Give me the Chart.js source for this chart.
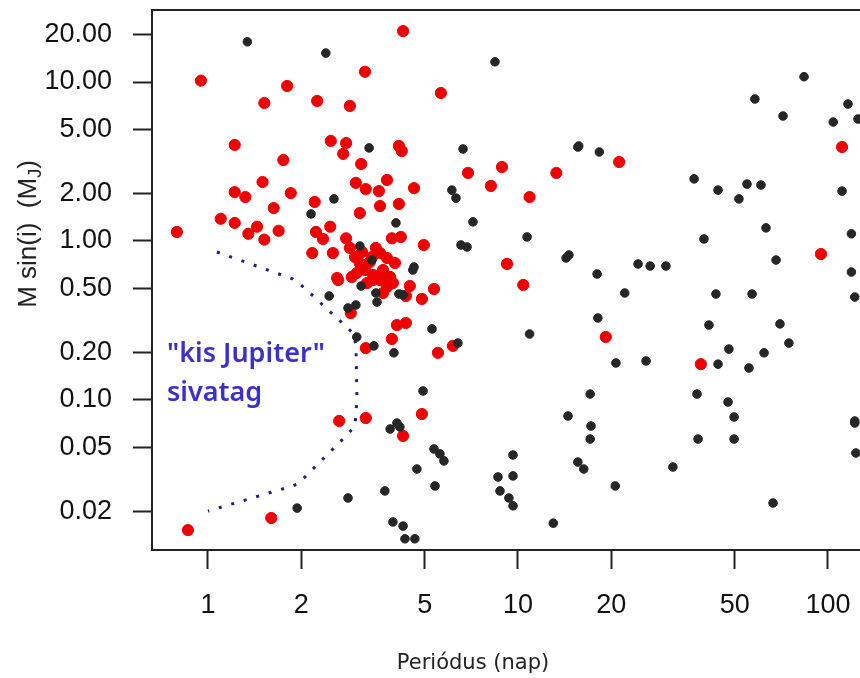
<!DOCTYPE html>
<html><head><meta charset="utf-8">
<script src="https://cdn.jsdelivr.net/npm/chart.js@4"></script>
<style>
html,body{margin:0;padding:0;background:#fff;overflow:hidden;width:860px;height:678px}
#wrap{position:absolute;left:0;top:0;width:900px;height:678px}
</style>
</head><body><div id="wrap"><canvas id="c" width="900" height="678"></canvas></div>
<script>
// Red planets: period (days) and M sin(i) (Jupiter masses)
const redPeriod = [0.794,0.949,1.80,1.52,1.22,1.75,1.50,1.22,1.32,1.85,1.63,1.10,1.22,1.44,1.35,1.69,1.52,0.862,1.60,
  4.26,3.21,2.25,2.87,5.64,2.49,2.79,2.73,4.13,4.22,3.12,6.90,8.88,13.3,3.00,3.23,3.78,3.56,4.62,8.18,10.9,
  2.21,3.09,3.59,4.13,2.48,2.23,2.35,2.79,3.48,3.92,4.19,4.97,2.17,2.53,9.22,21.2,111,94.9,
  2.63,2.91,10.4,5.36,4.48,4.90,2.89,4.07,4.35,3.92,3.23,5.52,6.17,4.90,2.65,3.23,4.26,19.2,38.9,
  2.87,2.98,3.09,3.21,3.02,3.59,3.78,4.01,3.67,3.87,2.61,3.41,3.26,3.41,3.59,3.78,3.95,3.67,3.33,3.14,3.38,4.35];
const redMass = [1.14,10.2,9.44,7.38,4.02,3.23,2.35,2.03,1.89,2.00,1.61,1.38,1.30,1.23,1.11,1.16,1.02,0.0152,0.0181,
  20.9,11.6,7.60,7.07,8.53,4.26,4.13,3.53,3.96,3.68,3.05,2.68,2.92,2.68,2.32,2.12,2.42,2.06,2.15,2.22,1.89,
  1.76,1.50,1.66,1.71,1.23,1.14,1.03,1.04,0.904,1.04,1.06,0.944,0.840,0.840,0.717,3.14,3.90,0.828,
  0.568,0.594,0.529,0.499,0.521,0.432,0.352,0.296,0.305,0.242,0.212,0.198,0.219,0.0816,0.0738,0.0770,0.0594,0.249,0.168,
  0.904,0.793,0.727,0.657,0.629,0.840,0.782,0.727,0.657,0.594,0.585,0.568,0.544,0.611,0.568,0.514,0.544,0.471,0.738,0.853,0.793,0.451];

// Black planets
const blackPeriod = [1.34,1.94,2.40,8.43,3.31,6.65,15.6,6.12,6.31,2.55,2.15,7.16,4.04,3.09,6.55,6.85,10.7,14.3,14.6,3.38,4.62,
  83.7,58.1,71.6,116,104,125,15.7,18.3,37.0,44.2,51.6,54.8,60.8,111,63.1,39.8,119,68.0,24.4,26.7,30.0,18.0,119,
  22.1,43.5,56.9,122,18.1,41.3,70.0,74.8,47.9,62.2,20.7,25.9,44.2,55.6,17.1,37.8,47.6,14.5,17.2,49.8,122,122,
  17.1,38.1,49.8,123,15.6,16.3,31.6,20.6,66.5,
  4.58,3.12,2.46,2.83,3.00,3.51,3.48,4.13,4.26,5.28,10.9,3.02,3.43,3.98,6.40,4.94,3.87,4.07,4.16,
  5.36,5.60,5.77,9.64,4.72,8.62,9.64,5.40,8.75,9.35,9.64,2.83,3.72,13.0,3.95,4.26,4.32,4.65];
const blackMass = [17.9,0.0209,15.2,13.4,3.85,3.79,3.90,2.09,1.86,1.84,1.48,1.32,1.30,0.930,0.944,0.917,1.06,0.782,0.817,0.759,0.686,
  10.8,7.82,6.11,7.27,5.60,5.85,3.96,3.63,2.46,2.09,1.84,2.28,2.25,2.06,1.21,1.03,1.11,0.759,0.717,0.696,0.696,0.620,0.638,
  0.471,0.464,0.464,0.444,0.328,0.296,0.301,0.228,0.209,0.198,0.171,0.176,0.168,0.159,0.109,0.109,0.0971,0.0793,0.0686,0.0782,0.0738,0.0716,
  0.0568,0.0568,0.0568,0.0464,0.0407,0.0368,0.0379,0.0288,0.0225,
  0.657,0.521,0.451,0.379,0.396,0.413,0.471,0.464,0.458,0.280,0.260,0.249,0.219,0.198,0.228,0.114,0.0657,0.0716,0.0676,
  0.0492,0.0458,0.0414,0.0451,0.0368,0.0328,0.0333,0.0288,0.0268,0.0242,0.0216,0.0242,0.0268,0.0168,0.0171,0.0161,0.0134,0.0134];

// "kis Jupiter" desert boundary (dotted curve)
const desertPeriod = [1.069,1.880,2.04,2.936,3.002,3.024,2.981,2.787,1.95,1.785,1.0];
const desertMass   = [0.853,0.577,0.510,0.264,0.222,0.1015,0.0686,0.0594,0.0296,0.0280,0.0200];

const xTickValues = [1,2,5,10,20,50,100];
const xTickLabels = ['1','2','5','10','20','50','100'];
const yTickValues = [0.02,0.05,0.1,0.2,0.5,1,2,5,10,20];
const yTickLabels = ['0.02','0.05','0.10','0.20','0.50','1.00','2.00','5.00','10.00','20.00'];

const xTitle = 'Periódus (nap)';
const yTitleMain = 'M sin(i)  (M';
const yTitleSub = 'J';
const yTitleEnd = ')';
const desertLabel = ['"kis Jupiter"', 'sivatag'];

const zip = (a, b) => a.map((v, i) => ({x: v, y: b[i]}));

const decor = {
  id: 'decor',
  afterDatasetsDraw(chart) {
    const {ctx, chartArea: a} = chart;
    ctx.save();
    ctx.strokeStyle = '#222'; ctx.lineWidth = 2;
    ctx.strokeRect(a.left, a.top, a.right - a.left, a.bottom - a.top);
    ctx.fillStyle = '#3b30cc';
    ctx.font = '600 27px "Noto Sans"';
    ctx.textBaseline = 'middle'; ctx.textAlign = 'left';
    ctx.fillText(desertLabel[0], a.left + 15, 354);
    ctx.fillText(desertLabel[1], a.left + 15, 393);
    ctx.fillStyle = '#222';
    ctx.font = '21px "DejaVu Sans"'; ctx.textAlign = 'center';
    ctx.fillText(xTitle, 473, 664);
    // y title with subscript
    ctx.translate(29, 234); ctx.rotate(-Math.PI / 2);
    ctx.textAlign = 'left';
    ctx.font = '26px "Liberation Sans"';
    const w1 = ctx.measureText(yTitleMain).width;
    const w3 = ctx.measureText(yTitleEnd).width;
    ctx.font = '18px "Liberation Sans"';
    const w2 = ctx.measureText(yTitleSub).width;
    let x0 = -(w1 + w2 + w3) / 2;
    ctx.font = '26px "Liberation Sans"';
    ctx.fillText(yTitleMain, x0, 0);
    ctx.font = '18px "Liberation Sans"';
    ctx.fillText(yTitleSub, x0 + w1, 7);
    ctx.font = '26px "Liberation Sans"';
    ctx.fillText(yTitleEnd, x0 + w1 + w2, 0);
    ctx.restore();
  }
};

const tickFont = {family: '"Liberation Sans", Arial, sans-serif', size: 27};

new Chart(document.getElementById('c'), {
  type: 'scatter',
  data: {
    datasets: [
      {data: zip(blackPeriod, blackMass), backgroundColor: '#262626', borderColor: '#262626', pointRadius: 4.3, borderWidth: 1, order: 0},
      {data: zip(redPeriod, redMass), backgroundColor: '#ee0000', borderColor: '#ee0000', pointRadius: 5.6, borderWidth: 1, order: 1},
      {data: zip(desertPeriod, desertMass), showLine: true, pointRadius: 0, borderColor: '#1f1f7a', borderWidth: 3,
       borderDash: [3, 10], fill: false, order: 2}
    ]
  },
  options: {
    responsive: false, animation: false, devicePixelRatio: 1, events: [],
    layout: {padding: {left: 0, top: 10, right: 10, bottom: 0}},
    plugins: {legend: {display: false}, tooltip: {enabled: false}},
    scales: {
      x: {
        type: 'logarithmic', position: 'bottom', min: 0.66, max: 158.5,
        afterBuildTicks: s => { s.ticks = xTickValues.map(v => ({value: v})); },
        afterFit: s => { s.height = 128; s.paddingLeft = 0; s.paddingRight = 0; },
        ticks: {callback: (v, i) => xTickLabels[i], autoSkip: false, maxRotation: 0, minRotation: 0,
                color: '#111', font: tickFont, padding: 20},
        grid: {drawOnChartArea: false, drawTicks: true, tickLength: 19, tickWidth: 2, tickColor: '#222'},
        border: {display: false}
      },
      y: {
        type: 'logarithmic', position: 'left', min: 0.01139, max: 28.37,
        afterBuildTicks: s => { s.ticks = yTickValues.map(v => ({value: v})); },
        afterFit: s => { s.width = 152; s.paddingTop = 0; s.paddingBottom = 0; },
        ticks: {callback: (v, i) => yTickLabels[i], autoSkip: false, color: '#111', font: tickFont, padding: 21},
        grid: {drawOnChartArea: false, drawTicks: true, tickLength: 19, tickWidth: 2, tickColor: '#222'},
        border: {display: false}
      }
    }
  },
  plugins: [decor]
});
</script>
</body></html>
